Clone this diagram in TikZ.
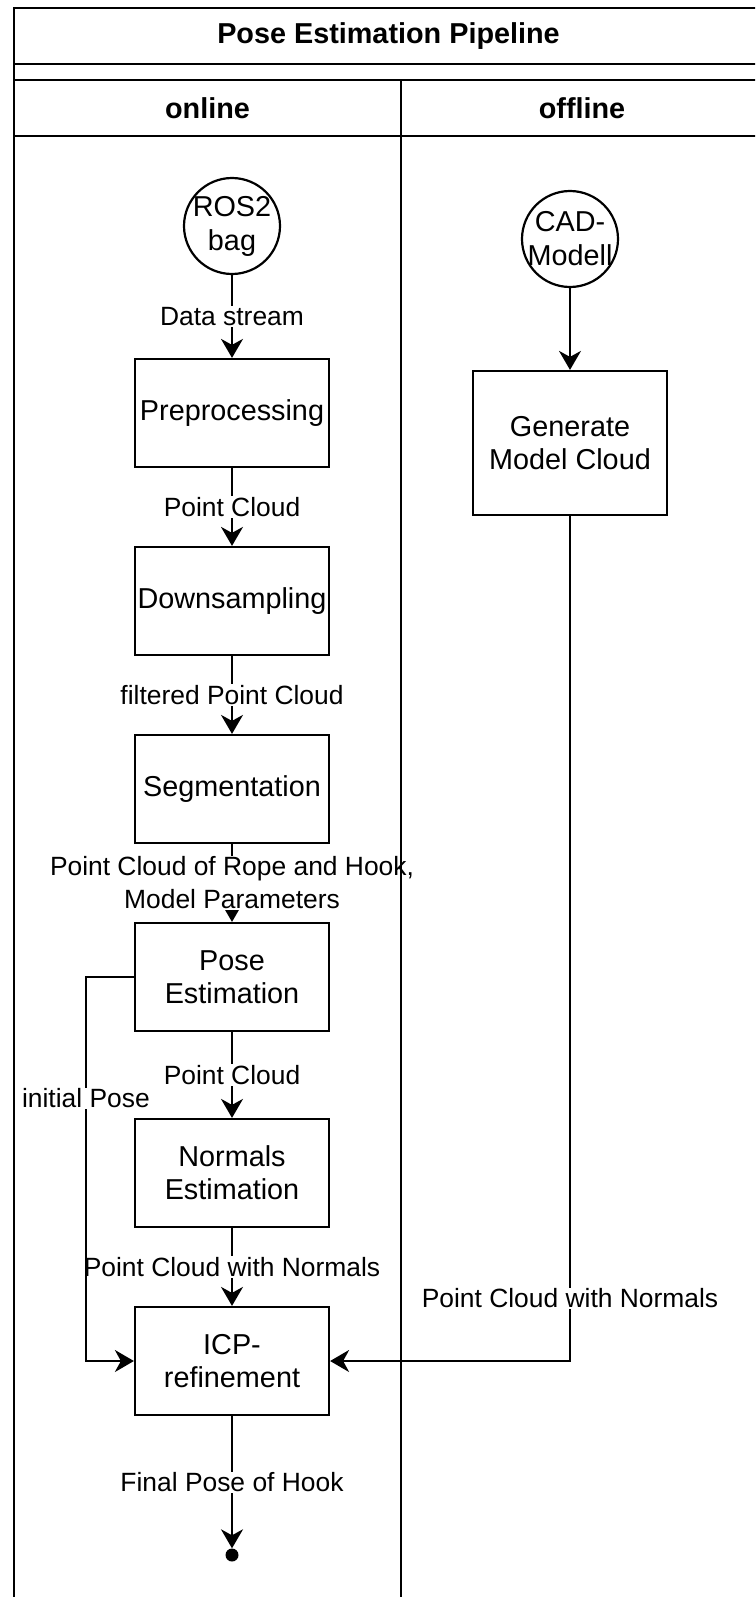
\documentclass[tikz,border=0pt]{standalone}
\usepackage{fontspec}
\setmainfont{Liberation Sans}
\usetikzlibrary{arrows.meta}
\tikzstyle{source} = [
    circle,
    minimum size=96pt,
    inner sep=-8pt,
    align=center,
    draw=black,
    line width=2.2pt,
    font=\fontsize{28.8}{34}\selectfont
]
\tikzstyle{process} = [
    rectangle,
    minimum width=194pt,
    minimum height=108pt,
    inner sep=2pt,
    align=center,
    draw=black,
    line width=2.2pt,
    font=\fontsize{28.8}{33}\selectfont
]
\tikzstyle{sink} = [
    circle,
    fill=black,
    minimum size=13pt,
    inner sep=0pt
]
\tikzstyle{lanehead} = [font=\bfseries\fontsize{28.8}{33}\selectfont]
\tikzstyle{flowlabel} = [
    fill=white,
    inner sep=1pt,
    align=center,
    font=\fontsize{26.4}{33}\selectfont
]
\tikzstyle{frame} = [line width=2.2pt]
\tikzstyle{arrow} = [line width=2.2pt,-{Stealth[length=19pt,width=22pt,inset=6pt]}]

\begin{document}
\begin{tikzpicture}[x=1pt, y=-1pt, node distance=188pt]

\useasboundingbox (0,0) rectangle (755,1597);
\clip (0,0) rectangle (755,1597);

% lane headers
\node (title) [lanehead] at (388.5,36) {Pose Estimation Pipeline};
\node (online) [lanehead] at (207.5,108) {online};
\node (offline) [lanehead] at (582,108) {offline};

% online lane
\node (ros) [source] at (232,226) {ROS2\\bag};

\node (pre) [process] at (232,413) {Preprocessing};

\node (down) [process, below of=pre] {Downsampling};

\node (seg) [process, below of=down] {Segmentation};

\node (pose) [process, below of=seg] {Pose\\Estimation};

\node (normals) [process, below of=pose, yshift=-8pt] {Normals\\Estimation};

\node (icp) [process, below of=normals] {ICP-\\refinement};

\node (finish) [sink] at (232,1555) {};

% offline lane
\node (cad) [source] at (570,239) {CAD-\\Modell};

\node (gen) [process, minimum height=144pt] at (570,443) {Generate\\Model Cloud};

\draw [arrow] (ros) -- node[flowlabel] {Data stream} (pre);
\draw [arrow] (pre) -- node[flowlabel] {Point Cloud} (down);
\draw [arrow] (down) -- node[flowlabel] {filtered Point Cloud} (seg);
\draw [arrow] (seg) -- node[flowlabel] {Point Cloud of Rope and Hook,\\Model Parameters} (pose);
\draw [arrow] (pose) -- node[flowlabel] {Point Cloud} (normals);
\draw [arrow] (normals) -- node[flowlabel] {Point Cloud with Normals} (icp);
\draw [arrow] (pose.west) -- ++(-48,0) |- node[flowlabel, pos=0.158] {initial Pose} (icp.west);
\draw [arrow] (icp) -- node[flowlabel] {Final Pose of Hook} (finish);
\draw [arrow] (cad) -- (gen);
\draw [arrow] (gen) |- node[flowlabel, pos=0.463] {Point Cloud with Normals} (icp.east);

% pool and lanes
\draw [frame] (14,8) rectangle (763,1620);
\draw [frame] (14,64) -- (763,64);
\draw [frame] (14,80) -- (763,80);
\draw [frame] (14,136) -- (763,136);
\draw [frame] (401,80) -- (401,1620);

\end{tikzpicture}
\end{document}
